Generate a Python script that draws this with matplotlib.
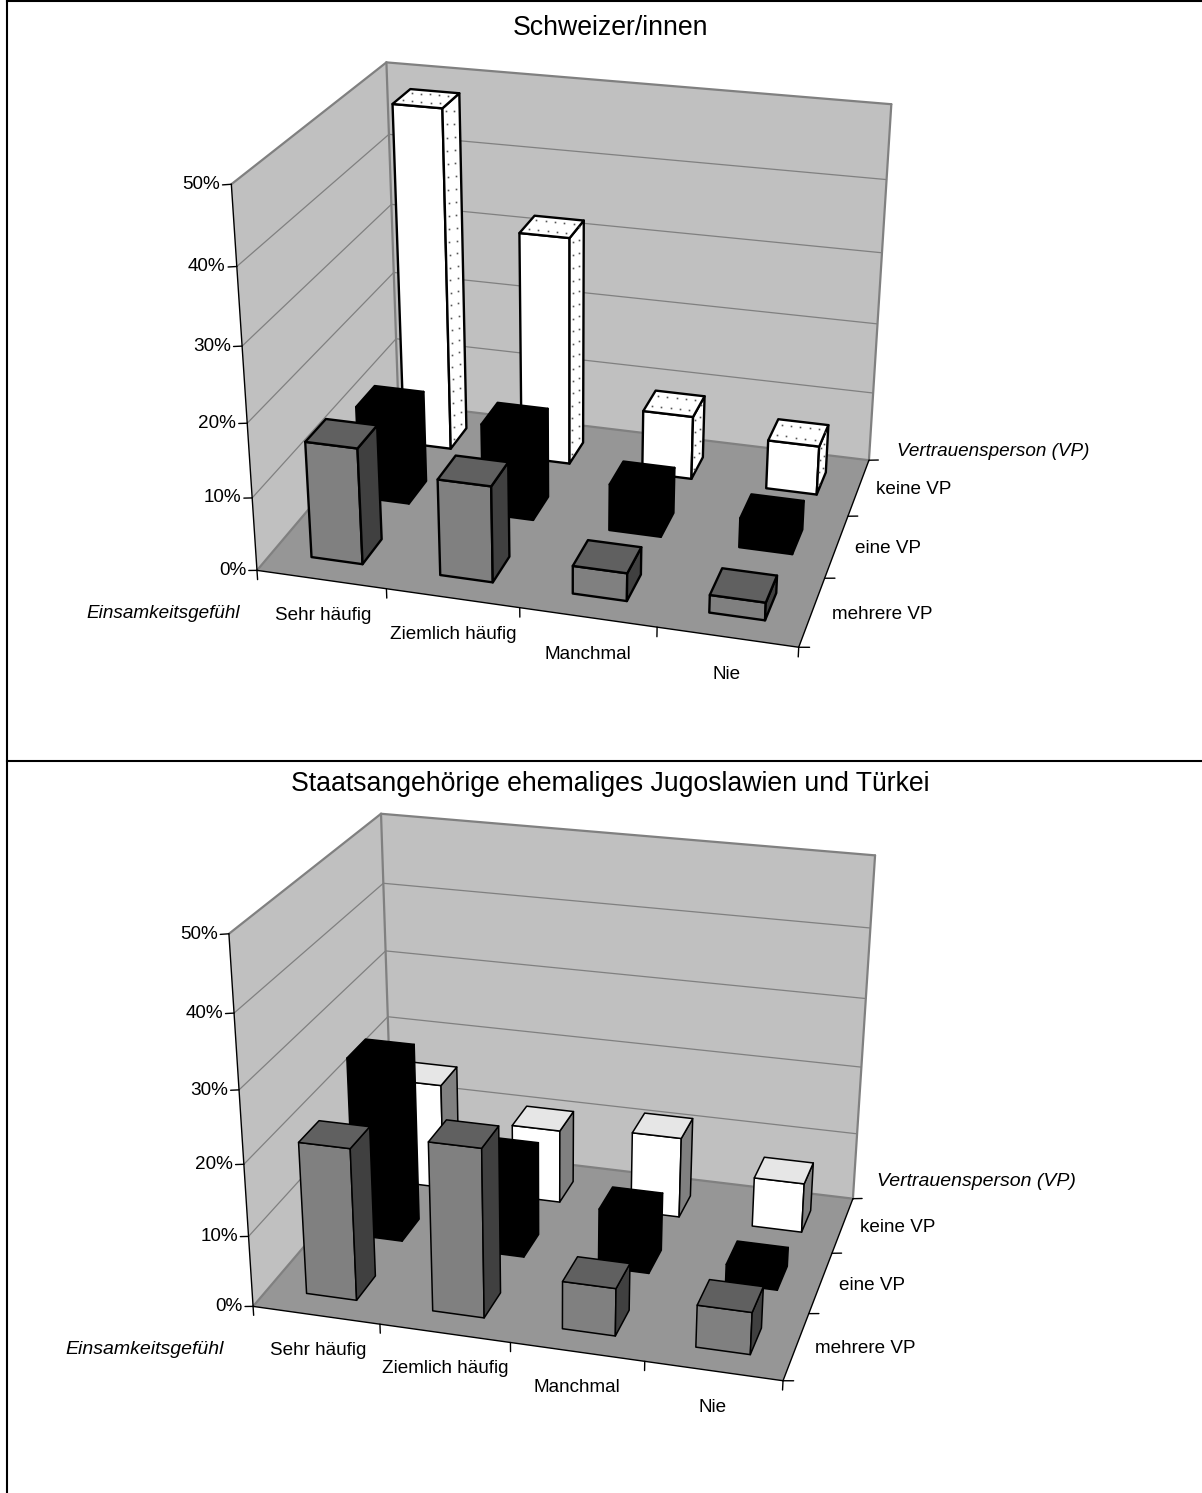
import numpy as np
import matplotlib
matplotlib.use("Agg")
import matplotlib.pyplot as plt
from matplotlib.lines import Line2D
from mpl_toolkits.mplot3d.art3d import Poly3DCollection

W, H = 1202, 1493
plt.rcParams['font.family'] = ['Liberation Sans', 'DejaVu Sans']

categories = ['Sehr häufig', 'Ziemlich häufig', 'Manchmal', 'Nie']
series = ['mehrere VP', 'eine VP', 'keine VP']
z_ticks = [0, 10, 20, 30, 40, 50]
z_labels = ['0%', '10%', '20%', '30%', '40%', '50%']

schweiz_mehrere = [15.9, 13.1, 3.8, 2.4]
schweiz_eine = [13.0, 12.7, 6.5, 4.1]
schweiz_keine = [48.3, 32.4, 9.1, 7.0]

jugo_mehrere = [21.4, 23.6, 6.7, 5.9]
jugo_eine = [25.9, 13.7, 8.5, 2.8]
jugo_keine = [15.7, 10.9, 11.9, 7.3]

# Camera calibration: where the corners of the plot box sit on the page (px)
box = [(0, 0, 0), (4, 0, 0), (4, 3, 0), (0, 3, 0), (0, 0, 50), (0, 3, 50), (4, 3, 50)]
page_top = [(257, 568), (799, 649), (869, 458), (398, 406), (231, 185), (387, 61), (891, 105)]
page_bottom = [(253, 1305), (783, 1382), (853, 1197), (392, 1145), (229, 934), (381, 813), (875, 856)]

WALL, FLOOR, EDGE = '#c0c0c0', '#969696', '#808080'
BAR = 0.4
FS = 13.6


def camera(world, page):
    rows = []
    for (x, y, z), (u, v) in zip(world, page):
        rows.append([x, y, z, 1, 0, 0, 0, 0, -u * x, -u * y, -u * z, -u])
        rows.append([0, 0, 0, 0, x, y, z, 1, -v * x, -v * y, -v * z, -v])
    P = np.linalg.svd(np.array(rows, float))[2][-1].reshape(3, 4)
    if P[2, 3] < 0:
        P = -P
    P = P / P[2, 3]
    return np.array([P[0], P[1], [0, 0, 0, 1], P[2]])


def px(x, y):
    return x / W, 1 - y / H


def chart(fig, page, title, title_y, values, cols, lw, dotted, ptitle_l, ptitle_r, ifs):
    ax = fig.add_axes([0, 0, 1, 1], projection='3d', computed_zorder=False, proj_type='ortho')
    ax.set_axis_off()
    ax.patch.set_visible(False)
    ax.set_xticks([])
    ax.set_yticks([])
    ax.set_zticks([])
    M0 = camera(box, page)

    def get_proj():
        inv = ax.transData.inverted().get_matrix()
        A = np.array([[inv[0, 0], inv[0, 1], 0, inv[0, 2]],
                      [inv[1, 0], inv[1, 1], 0, inv[1, 2]],
                      [0, 0, 1, 0],
                      [0, 0, 0, 1]])
        flip = np.array([[1, 0, 0, 0], [0, -1, 0, H], [0, 0, 1, 0], [0, 0, 0, 1.0]])
        return A @ flip @ M0

    ax.get_proj = get_proj
    ax.apply_aspect = lambda position=None: None

    def label(x, y, z, s, ha):
        p = M0 @ np.array([x, y, z, 1.0])
        fig.text(*px(p[0] / p[3], p[1] / p[3]), s, ha=ha, va='center', fontsize=FS, color='k')

    def poly(verts, fc, ec='none', w=0.0, z=1):
        c = Poly3DCollection([verts], facecolors=[fc], edgecolors=[ec] if ec != 'none' else 'none',
                             linewidths=w, zorder=z)
        ax.add_collection3d(c)

    poly([(0, 0, 0), (0, 3, 0), (0, 3, 50), (0, 0, 50)], WALL)
    poly([(0, 3, 0), (4, 3, 0), (4, 3, 50), (0, 3, 50)], WALL)
    poly([(0, 0, 0), (4, 0, 0), (4, 3, 0), (0, 3, 0)], FLOOR)

    def line(a, b, c='k', w=1.0, z=2):
        ax.plot([a[0], b[0]], [a[1], b[1]], [a[2], b[2]], color=c, lw=w, zorder=z,
                solid_capstyle='round')

    for t in z_ticks[1:-1]:
        line((0, 0, t), (0, 3, t), EDGE, 0.9)
        line((0, 3, t), (4, 3, t), EDGE, 0.9)
    line((0, 0, 50), (0, 3, 50), EDGE, 1.6)
    line((0, 3, 50), (4, 3, 50), EDGE, 1.6)
    line((0, 3, 50), (0, 3, 0), EDGE, 1.6)
    line((4, 3, 50), (4, 3, 0), EDGE, 1.6)
    line((0, 0, 0), (0, 3, 0), EDGE, 1.6)
    line((0, 3, 0), (4, 3, 0), EDGE, 1.6)

    line((0, 0, 0), (0, 0, 50), 'k', 1.0, 3)
    line((0, 0, 0), (4, 0, 0), 'k', 1.0, 3)
    line((4, 0, 0), (4, 3, 0), 'k', 1.0, 3)
    for t, lab in zip(z_ticks, z_labels):
        line((0, 0, t), (-0.065, 0, t - 0.18), 'k', 1.0, 3)
        label(-0.085, 0, t - 0.2, lab, 'right')
    for i in range(5):
        line((i, 0, 0), (i, 0, -1.3), 'k', 1.0, 3)
    for j in range(4):
        line((4, j, 0), (4.075, j, 0.2), 'k', 1.0, 3)
    for i, c in enumerate(categories):
        label(i + 0.5, 0, -5.1, c, 'center')
    for j, s in enumerate(series):
        label(4.14, j + 0.5, 0, s, 'left')

    order = 10
    for j in [2, 1, 0]:
        front, side, top = cols[j]
        for i in [3, 2, 1, 0]:
            v = values[j][i]
            x0, x1 = i + 0.5 - BAR / 2, i + 0.5 + BAR / 2
            y0, y1 = j + 0.5 - BAR / 2, j + 0.5 + BAR / 2
            order += 1
            poly([(x0, y0, 0), (x1, y0, 0), (x1, y0, v), (x0, y0, v)], front, 'k', lw, order)
            poly([(x1, y0, 0), (x1, y1, 0), (x1, y1, v), (x1, y0, v)], side, 'k', lw, order)
            poly([(x0, y0, v), (x1, y0, v), (x1, y1, v), (x0, y1, v)], top, 'k', lw, order)
            if dotted and j == 2:
                gx, gy = np.meshgrid(np.linspace(x0 + .05, x1 - .05, 5), np.linspace(y0 + .1, y1 - .1, 2))
                ax.plot(gx.ravel(), gy.ravel(), np.full(gx.size, v), ls='none', marker='s', ms=1.2,
                        color='#555555', mew=0, zorder=order)
                zs = np.arange(0.6, v, 0.9)
                for k, yy in enumerate([y0 + .10, y0 + .28]):
                    zz = zs[k % 2::2]
                    ax.plot(np.full(zz.size, x1), np.full(zz.size, yy), zz, ls='none', marker='s', ms=1.2,
                            color='#555555', mew=0, zorder=order)

    fig.text(*px(610, title_y), title, ha='center', va='center', fontsize=19.2)
    fig.text(*px(*ptitle_l), 'Einsamkeitsgefühl', ha='right', va='center', fontsize=ifs, style='italic')
    fig.text(*px(*ptitle_r), 'Vertrauensperson (VP)', ha='left', va='center', fontsize=ifs, style='italic')


fig = plt.figure(figsize=(W / 100, H / 100), dpi=100, facecolor='white')

cols_top = [('#808080', '#404040', '#606060'),
            ('#000000', '#000000', '#000000'),
            ('#ffffff', '#ffffff', '#ffffff')]
cols_bot = [('#808080', '#404040', '#606060'),
            ('#000000', '#000000', '#000000'),
            ('#ffffff', '#808080', '#e6e6e6')]

chart(fig, page_top, 'Schweizer/innen', 28,
      [schweiz_mehrere, schweiz_eine, schweiz_keine], cols_top, 1.7, True, (240, 613), (897, 452), 13.6)
chart(fig, page_bottom, 'Staatsangehörige ehemaliges Jugoslawien und Türkei', 784,
      [jugo_mehrere, jugo_eine, jugo_keine], cols_bot, 1.1, False, (224, 1350), (877, 1182), 14.0)

for (x0, y0, x1, y1) in [(7, 1, 1202, 1), (7, 761, 1202, 761), (7, 0, 7, 1493)]:
    fig.add_artist(Line2D([x0 / W, x1 / W], [1 - y0 / H, 1 - y1 / H], color='k', lw=1.5, transform=fig.transFigure))

fig.savefig('out.png', dpi=100, facecolor='white')
